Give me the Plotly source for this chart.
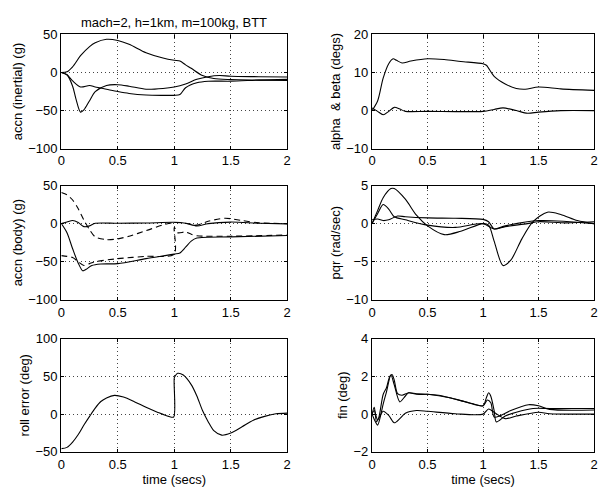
import plotly.graph_objects as go

# ---------------- data ----------------
# Panel 1: accn (inertial)
tA = [0, 0.05, 0.1, 0.17, 0.25, 0.3, 0.4, 0.5, 0.6, 0.75, 0.9, 1.0, 1.05, 1.1, 1.15, 1.25, 1.35, 1.5, 1.75, 2.0]
accA = [0, 1, 7.5, 22, 34, 39, 43.5, 42, 37, 26, 19, 16, 15, 10, 5.5, -4, -8, -9.3, -10, -10.6]
tB = [0, 0.05, 0.1, 0.13, 0.17, 0.2, 0.25, 0.3, 0.4, 0.5, 0.6, 0.75, 0.9, 1.0, 1.1, 1.2, 1.3, 1.4, 1.5, 1.75, 2.0]
accB = [0, -3, -18, -35, -52, -49, -37, -25, -17, -16, -18, -22, -21, -19, -15, -9, -5.5, -4, -5, -5.5, -6]
tC = [0, 0.05, 0.1, 0.17, 0.25, 0.3, 0.4, 0.5, 0.6, 0.75, 0.9, 1.0, 1.05, 1.1, 1.2, 1.3, 1.5, 1.75, 2.0]
accC = [0, -3, -11, -19, -17, -19, -22, -25, -27.5, -29.5, -30, -30, -29, -20, -13.5, -11.5, -11.4, -10, -9]

# Panel 2: alpha & beta
t_alpha = [0, 0.05, 0.1, 0.15, 0.19, 0.22, 0.27, 0.35, 0.5, 0.65, 0.8, 1.0, 1.03, 1.1, 1.2, 1.3, 1.38, 1.5, 1.7, 2.0]
alpha = [0, 2.5, 8.5, 12.3, 13.6, 13.2, 12.5, 13, 13.6, 13.4, 12.9, 12.3, 11.9, 9, 7, 5.8, 5.6, 6.2, 5.7, 5.3]
t_beta = [0, 0.05, 0.1, 0.15, 0.2, 0.25, 0.3, 0.5, 1.0, 1.1, 1.18, 1.3, 1.4, 1.5, 1.7, 2.0]
beta = [0.7, -0.2, -1.1, -0.2, 0.85, 0.4, -0.2, -0.2, -0.2, 0.3, 0.7, 0, -0.7, -0.4, 0, 0]

# Panel 3: accn (body), solid = achieved, dashed = demanded
tS1 = [0, 0.05, 0.1, 0.15, 0.2, 0.25, 0.3, 0.5, 0.75, 1.0, 1.1, 1.2, 1.3, 1.5, 1.75, 2.0]
bodyS1 = [0, 2, 4, 1.3, -4, -3, 0.4, 0.4, 0.8, 1.7, 0.5, -3, 0, 2, 0.5, -0.4]
tS2 = [0, 0.05, 0.1, 0.15, 0.19, 0.22, 0.27, 0.35, 0.5, 0.75, 1.0, 1.05, 1.1, 1.15, 1.2, 1.5, 2.0]
bodyS2 = [0, -12, -33, -52, -62, -60, -55, -53, -52.5, -46, -40, -38.5, -31, -23, -19, -17.4, -15.7]
tD1 = [0, 0.05, 0.1, 0.15, 0.2, 0.25, 0.3, 0.4, 0.5, 0.6, 0.75, 0.9, 1.0, 1.1, 1.2, 1.3, 1.45, 1.6, 1.75, 2.0]
bodyD1 = [40.7, 37.7, 31, 19.5, 4.7, -8, -17.4, -21, -20, -16.5, -9.3, -1.7, 1.3, 0.5, -2, 3, 7, 4, 1, 0]
tD2 = [0, 0.05, 0.1, 0.15, 0.2, 0.25, 0.3, 0.5, 0.75, 0.999, 1.0, 1.03, 1.1, 1.15, 1.2, 1.5, 2.0]
bodyD2 = [-42, -43, -44.5, -50, -55, -52.5, -50, -46, -43, -40, -5, -12, -11, -14, -16, -16.5, -15]

# Panel 4: pqr
tP1 = [0, 0.05, 0.1, 0.17, 0.2, 0.3, 0.4, 0.5, 0.65, 0.8, 1.0, 1.05, 1.1, 1.18, 1.25, 1.35, 1.45, 1.58, 1.7, 1.85, 2.0]
pqr1 = [0, 1.7, 3.4, 4.6, 4.6, 3.2, 1.1, -0.3, -1.45, -1, 0, -0.2, -2.3, -5.5, -4.8, -2, 0.25, 1.5, 1.2, 0.4, 0]
tP2 = [0, 0.05, 0.1, 0.15, 0.2, 0.3, 0.5, 0.75, 1.0, 1.1, 1.2, 1.5, 2.0]
pqr2 = [0, 1.3, 2.5, 1.9, 0.9, 0.5, -0.2, -0.5, 0, -0.7, -0.3, 0.4, 0]
tP3 = [0, 0.05, 0.1, 0.15, 0.23, 0.3, 0.5, 0.75, 1.0, 1.05, 1.1, 1.2, 1.4, 1.5, 1.75, 2.0]
pqr3 = [0.5, 0.6, 0.4, 0.5, 1.0, 0.9, 0.75, 0.7, 0.55, 0.25, -0.7, -0.4, 0, 0.25, 0.1, 0.25]

# Panel 5: roll error
t_roll = [0, 0.05, 0.1, 0.15, 0.2, 0.25, 0.3, 0.35, 0.4, 0.47, 0.55, 0.65, 0.75, 0.85, 0.95, 0.995,
          1.0, 1.01, 1.03, 1.08, 1.15, 1.2, 1.25, 1.3, 1.35, 1.42, 1.5, 1.6, 1.7, 1.8, 1.9, 2.0]
roll = [-45.7, -44, -37, -27, -14.5, -3, 8, 16.7, 21.4, 24.8, 22.6, 16.2, 9, 2.6, -3, -3.8,
        48, 51, 54, 51.7, 39, 24, 4.7, -10, -21.8, -27.8, -25, -16.7, -8, -3, 0.4, 1.3]

# Panel 6: fin
tF1 = [0, 0.02, 0.04, 0.06, 0.1, 0.13, 0.16, 0.18, 0.2, 0.23, 0.27, 0.33, 0.4, 0.5, 0.6, 0.7, 0.84, 1.0,
       1.03, 1.05, 1.07, 1.1, 1.12, 1.2, 1.3, 1.45, 1.6, 2.0]
fin1 = [0, 0.36, -0.4, -0.2, 1.04, 1.4, 2.0, 2.1, 1.8, 1.08, 1.0, 1.13, 1.05, 1.05, 1.0, 0.87, 0.65, 0.44,
        0.87, 1.13, 0.95, 0.19, -0.41, -0.1, 0.1, 0.3, 0.3, 0.3]
tF2 = [0, 0.03, 0.05, 0.08, 0.1, 0.13, 0.17, 0.2, 0.25, 0.3, 0.33, 0.4, 0.5, 0.7, 0.9, 1.0, 1.04, 1.07,
       1.1, 1.15, 1.25, 1.41, 1.5, 1.6, 2.0]
fin2 = [0, -0.4, -0.58, 0, 0.53, 1.18, 2.07, 1.55, 0.65, 0.96, 1.13, 1.08, 1.05, 0.87, 0.56, 0.44, 0.75, 0.6,
        -0.15, -0.1, 0.19, 0.5, 0.44, 0.25, 0.22]
tF3 = [0, 0.02, 0.05, 0.1, 0.15, 0.2, 0.25, 0.3, 0.4, 0.5, 0.75, 1.0, 1.05, 1.1, 1.2, 1.3, 1.5, 1.6, 2.0]
fin3 = [0, 0.19, -0.3, 0.15, -0.07, -0.46, -0.24, 0.05, 0.19, 0.15, 0.02, 0, 0.27, 0.1, -0.24, -0.1, 0.1, 0.02, 0]

x_ticks = [0, 0.5, 1, 1.5, 2]
x_tick_labels = ["0", "0.5", "1", "1.5", "2"]

panels = [
    # (ylabel, yrange, yticks, curves[(t, y, dash)])
    ("accn (inertial) (g)", [-100, 50], [-100, -50, 0, 50],
     [(tA, accA, "solid"), (tB, accB, "solid"), (tC, accC, "solid")]),
    ("alpha  & beta (degs)", [-10, 20], [-10, 0, 10, 20],
     [(t_alpha, alpha, "solid"), (t_beta, beta, "solid")]),
    ("accn (body) (g)", [-100, 50], [-100, -50, 0, 50],
     [(tD1, bodyD1, "6px,4px"), (tD2, bodyD2, "6px,4px"), (tS1, bodyS1, "solid"), (tS2, bodyS2, "solid")]),
    ("pqr (rad/sec)", [-10, 5], [-10, -5, 0, 5],
     [(tP1, pqr1, "solid"), (tP2, pqr2, "solid"), (tP3, pqr3, "solid")]),
    ("roll error (deg)", [-50, 100], [-50, 0, 50, 100],
     [(t_roll, roll, "solid")]),
    ("fin (deg)", [-2, 4], [-2, 0, 2, 4],
     [(tF1, fin1, "solid"), (tF2, fin2, "solid"), (tF3, fin3, "solid")]),
]

# The page body has an 8px margin, so the figure is sized to fit the window
OFF = 8
W, H = 607 - 2 * OFF, 496 - 2 * OFF


def px_x(p):
    return min(max((p - OFF) / W, 0), 1)


def px_y(p):
    return min(max(1 - (p - OFF) / H, 0), 1)


xdoms = [[px_x(58), px_x(287)], [px_x(373), px_x(598)]]
ydoms = [[px_y(146), px_y(28)], [px_y(302), px_y(184)], [px_y(459), px_y(342)]]

FONT = "Liberation Sans, Arial, sans-serif"
FS = 13
fig = go.Figure()
layout = dict(
    width=W, height=H, margin=dict(l=0, r=0, t=0, b=0),
    paper_bgcolor="white", plot_bgcolor="white", showlegend=False,
    font=dict(family=FONT, size=FS, color="black"),
)

for i, (ylab, yr, yt, curves) in enumerate(panels):
    row, col = divmod(i, 2)
    n = i + 1
    xa = "x" if n == 1 else f"x{n}"
    ya = "y" if n == 1 else f"y{n}"
    for (t, y, dash) in curves:
        fig.add_trace(go.Scatter(
            x=t, y=y, mode="lines", xaxis=xa, yaxis=ya,
            line=dict(color="black", width=1.1, dash=dash, shape="spline", smoothing=0.8),
            hoverinfo="skip"))
    axcommon = dict(showline=True, mirror="ticks", linecolor="black", linewidth=1.3,
                    ticks="inside", ticklen=3, tickcolor="black",
                    showgrid=True, gridcolor="#444444", griddash="1px,3px", gridwidth=1,
                    zeroline=False, tickfont=dict(size=FS, family=FONT, color="black"),
                    ticklabeloverflow="allow")
    layout["xaxis" if n == 1 else f"xaxis{n}"] = dict(
        axcommon, domain=xdoms[col], range=[0, 2], tickvals=x_ticks, ticktext=x_tick_labels,
        anchor=ya,
        title=dict(text="time (secs)", font=dict(size=FS, family=FONT), standoff=0) if row == 2 else None)
    layout["yaxis" if n == 1 else f"yaxis{n}"] = dict(
        axcommon, domain=ydoms[row], range=yr, tickvals=yt,
        ticktext=[("\u2212" + str(abs(v))) if v < 0 else str(v) for v in yt],
        anchor=xa, title=dict(text=ylab, font=dict(size=FS, family=FONT), standoff=2))

layout["annotations"] = [dict(
    text="mach=2, h=1km, m=100kg, BTT", x=(xdoms[0][0] + xdoms[0][1]) / 2, y=px_y(16),
    xref="paper", yref="paper", showarrow=False, font=dict(size=FS, family=FONT),
    xanchor="center", yanchor="middle")]

fig.update_layout(**layout)
fig.write_html("out.html")
